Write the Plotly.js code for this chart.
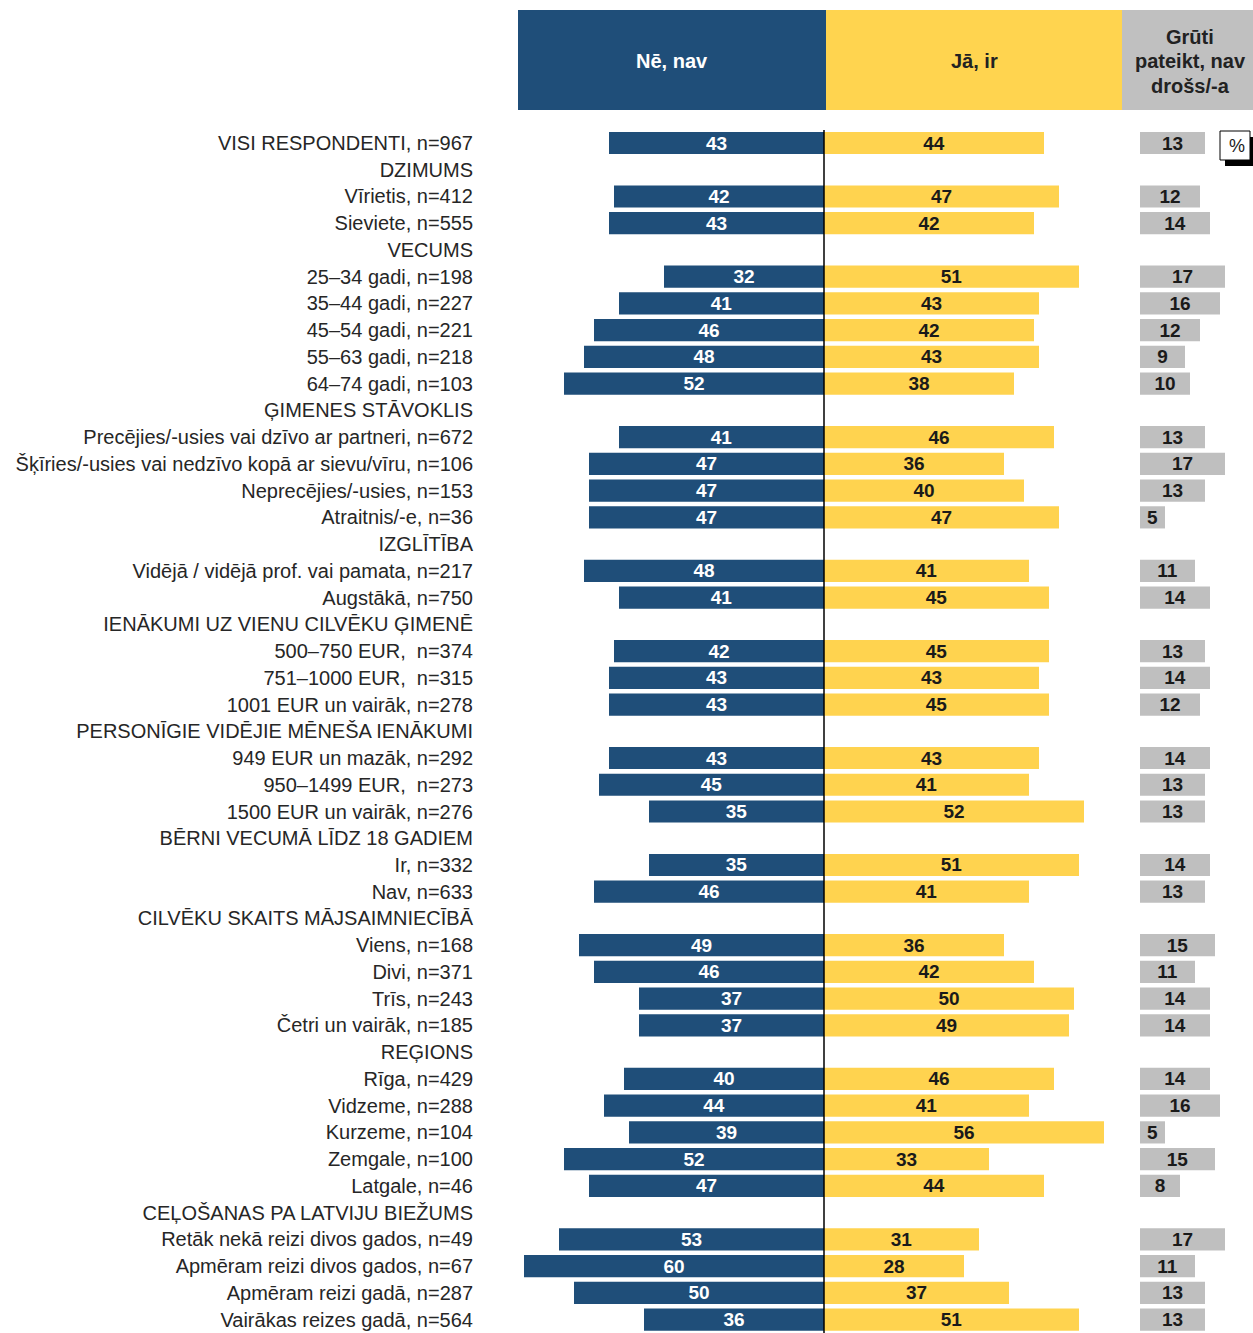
<!DOCTYPE html>
<html>
<head>
<meta charset="utf-8">
<script src="https://cdn.plot.ly/plotly-3.0.1.min.js"></script>
<style>html,body{margin:0;padding:0;background:#fff;}</style>
</head>
<body>
<div id="chart" style="width:1253px;height:1333px;"></div>
<script>
const categories = [
  "VISI RESPONDENTI, n=967",
  "DZIMUMS",
  "Vīrietis, n=412",
  "Sieviete, n=555",
  "VECUMS",
  "25–34 gadi, n=198",
  "35–44 gadi, n=227",
  "45–54 gadi, n=221",
  "55–63 gadi, n=218",
  "64–74 gadi, n=103",
  "ĢIMENES STĀVOKLIS",
  "Precējies/-usies vai dzīvo ar partneri, n=672",
  "Šķīries/-usies vai nedzīvo kopā ar sievu/vīru, n=106",
  "Neprecējies/-usies, n=153",
  "Atraitnis/-e, n=36",
  "IZGLĪTĪBA",
  "Vidējā / vidējā prof. vai pamata, n=217",
  "Augstākā, n=750",
  "IENĀKUMI UZ VIENU CILVĒKU ĢIMENĒ",
  "500–750 EUR,  n=374",
  "751–1000 EUR,  n=315",
  "1001 EUR un vairāk, n=278",
  "PERSONĪGIE VIDĒJIE MĒNEŠA IENĀKUMI",
  "949 EUR un mazāk, n=292",
  "950–1499 EUR,  n=273",
  "1500 EUR un vairāk, n=276",
  "BĒRNI VECUMĀ LĪDZ 18 GADIEM",
  "Ir, n=332",
  "Nav, n=633",
  "CILVĒKU SKAITS MĀJSAIMNIECĪBĀ",
  "Viens, n=168",
  "Divi, n=371",
  "Trīs, n=243",
  "Četri un vairāk, n=185",
  "REĢIONS",
  "Rīga, n=429",
  "Vidzeme, n=288",
  "Kurzeme, n=104",
  "Zemgale, n=100",
  "Latgale, n=46",
  "CEĻOŠANAS PA LATVIJU BIEŽUMS",
  "Retāk nekā reizi divos gados, n=49",
  "Apmēram reizi divos gados, n=67",
  "Apmēram reizi gadā, n=287",
  "Vairākas reizes gadā, n=564"
];
const seriesNames = ["Nē, nav", "Jā, ir", "Grūti pateikt, nav drošs/-a"];
const headerLines3 = ["Grūti", "pateikt, nav", "drošs/-a"];
const noValues = [43, null, 42, 43, null, 32, 41, 46, 48, 52, null, 41, 47, 47, 47, null, 48, 41, null, 42, 43, 43, null, 43, 45, 35, null, 35, 46, null, 49, 46, 37, 37, null, 40, 44, 39, 52, 47, null, 53, 60, 50, 36];
const yesValues = [44, null, 47, 42, null, 51, 43, 42, 43, 38, null, 46, 36, 40, 47, null, 41, 45, null, 45, 43, 45, null, 43, 41, 52, null, 51, 41, null, 36, 42, 50, 49, null, 46, 41, 56, 33, 44, null, 31, 28, 37, 51];
const hardValues = [13, null, 12, 14, null, 17, 16, 12, 9, 10, null, 13, 17, 13, 5, null, 11, 14, null, 13, 14, 12, null, 14, 13, 13, null, 14, 13, null, 15, 11, 14, 14, null, 14, 16, 5, 15, 8, null, 17, 11, 13, 13];
const unitLabel = "%";

const W = 1253, H = 1333;
const BLUE = "#1F4E79", YELLOW = "#FFD34F", GRAY = "#BFBFBF", HGRAY = "#C0C0C0";
const barFont = {family: "Liberation Sans, Arial", size: 19, weight: "bold"};
const px = v => v / W;
const py = v => 1 - v / H;

const noNeg = noValues.map(v => v === null ? null : -v);
const txt = arr => arr.map(v => v === null ? "" : String(v));

const common = {type: "bar", orientation: "h", y: categories, textposition: "inside", insidetextanchor: "middle",
                constraintext: "none", textangle: 0, width: 0.83, hoverinfo: "skip"};
const traces = [
  Object.assign({}, common, {x: noNeg, text: txt(noValues), name: seriesNames[0], marker: {color: BLUE},
   textfont: Object.assign({}, barFont, {color: "#ffffff"}), xaxis: "x", yaxis: "y"}),
  Object.assign({}, common, {x: yesValues, text: txt(yesValues), name: seriesNames[1], marker: {color: YELLOW},
   textfont: Object.assign({}, barFont, {color: "#1a1a1a"}), xaxis: "x", yaxis: "y"}),
  Object.assign({}, common, {x: hardValues, text: txt(hardValues), name: seriesNames[2], marker: {color: GRAY},
   textfont: Object.assign({}, barFont, {color: "#1a1a1a"}), xaxis: "x2", yaxis: "y2"})
];

const scale = 5.0; // px per percentage point
const center = 824, x1L = 518, x1R = 1122, grayStart = 1140;
const rowTop = 143, rowStep = 26.74, plotTop = 120;
const n = categories.length;
const yRange = [(n - 1) + (H - (rowTop + rowStep * (n - 1))) / rowStep, -(rowTop - plotTop) / rowStep];

const yCommon = {
  type: "category", categoryorder: "array", categoryarray: categories, range: yRange,
  domain: [0, 1 - plotTop / H], showgrid: false, zeroline: false, showline: false, fixedrange: true
};

const hdrFont = {family: "Liberation Sans, Arial", size: 20, weight: "bold"};
const annotations = [
  {xref: "paper", yref: "paper", x: px(672), y: py(61), text: seriesNames[0], showarrow: false,
   font: Object.assign({}, hdrFont, {color: "#ffffff"}), xanchor: "center", yanchor: "middle"},
  {xref: "paper", yref: "paper", x: px(974), y: py(61), text: seriesNames[1], showarrow: false,
   font: Object.assign({}, hdrFont, {color: "#222222"}), xanchor: "center", yanchor: "middle"},
  {xref: "paper", yref: "paper", x: px(1237), y: py(146), text: unitLabel, showarrow: false,
   font: {family: "Liberation Sans, Arial", size: 18, color: "#1a1a1a"}, xanchor: "center", yanchor: "middle"}
];
headerLines3.forEach((t, i) => annotations.push({
  xref: "paper", yref: "paper", x: px(1190), y: py(37 + 24.5 * i), text: t, showarrow: false,
  font: Object.assign({}, hdrFont, {size: 20, color: "#222222"}), xanchor: "center", yanchor: "middle"
}));

const layout = {
  width: W, height: H,
  margin: {l: 0, r: 0, t: 0, b: 0, pad: 0},
  paper_bgcolor: "#ffffff", plot_bgcolor: "rgba(0,0,0,0)",
  showlegend: false, barmode: "relative",
  xaxis: {domain: [px(x1L), px(x1R)], range: [(x1L - center) / scale, (x1R - center) / scale],
          visible: false, fixedrange: true, anchor: "y"},
  xaxis2: {domain: [px(x1R), 1], range: [(x1R - grayStart) / scale, (W - grayStart) / scale],
           visible: false, fixedrange: true, anchor: "y2"},
  yaxis: Object.assign({}, yCommon, {anchor: "x", ticks: "", ticklabelstandoff: 44,
          tickfont: {family: "Liberation Sans, Arial", size: 20, color: "#262626"}}),
  yaxis2: Object.assign({}, yCommon, {anchor: "x2", showticklabels: false, matches: "y"}),
  shapes: [
    {type: "rect", xref: "paper", yref: "paper", x0: px(518), x1: px(826), y0: py(110), y1: py(10), fillcolor: BLUE, line: {width: 0}, layer: "below"},
    {type: "rect", xref: "paper", yref: "paper", x0: px(826), x1: px(1122), y0: py(110), y1: py(10), fillcolor: "#FFD44F", line: {width: 0}, layer: "below"},
    {type: "rect", xref: "paper", yref: "paper", x0: px(1122), x1: px(1253), y0: py(110), y1: py(10), fillcolor: HGRAY, line: {width: 0}, layer: "below"},
    {type: "line", xref: "x", yref: "paper", x0: 0, x1: 0, y0: 0, y1: py(130), line: {color: "#000000", width: 1.5}},
    {type: "rect", xref: "paper", yref: "paper", x0: px(1225), x1: px(1253), y0: py(166), y1: py(137), fillcolor: "#000000", line: {width: 0}},
    {type: "rect", xref: "paper", yref: "paper", x0: px(1220), x1: px(1250), y0: py(160), y1: py(131), fillcolor: "#ffffff", line: {color: "#000000", width: 1}}
  ],
  annotations: annotations
};

Plotly.newPlot("chart", traces, layout, {staticPlot: true, displayModeBar: false});
</script>
</body>
</html>
